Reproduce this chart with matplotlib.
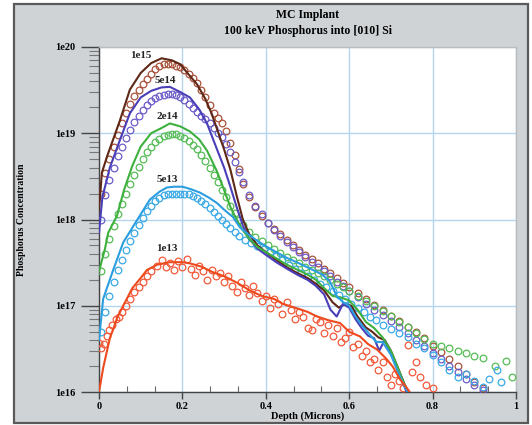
import matplotlib
matplotlib.use("Agg")
import matplotlib.pyplot as plt
from matplotlib.patches import Rectangle
from matplotlib.ticker import FixedLocator, FuncFormatter, NullFormatter
import numpy as np

W, H = 532, 425
SERIF = ["Liberation Serif", "DejaVu Serif"]

DOSES = ["1e15", "5e14", "2e14", "5e13", "1e13"]

# simulated profiles (solid lines): depth in microns, concentration in cm^-3
LINE_1E15_X = [0.000, 0.007, 0.020, 0.034, 0.050, 0.074, 0.100, 0.125, 0.150, 0.175,
               0.195, 0.215, 0.235, 0.255, 0.270, 0.285, 0.300, 0.315, 0.330, 0.345,
               0.360, 0.380, 0.400, 0.425, 0.450, 0.475, 0.500, 0.520, 0.540, 0.560,
               0.575, 0.590, 0.605, 0.620, 0.640, 0.655, 0.670, 0.685, 0.700, 0.715,
               0.728, 0.740]
LINE_1E15_Y = [1.3e18, 3.5e18, 5.5e18, 8.5e18, 1.4e19, 3.2e19, 5.0e19, 6.5e19, 7.4e19, 7.0e19,
               6.3e19, 4.8e19, 3.7e19, 2.5e19, 1.7e19, 1.05e19, 6.5e18, 3.8e18, 1.9e18, 1.0e18,
               6.8e17, 5.0e17, 4.2e17, 3.4e17, 2.8e17, 2.4e17, 2.1e17, 1.8e17, 1.5e17, 1.1e17,
               9.5e16, 1.05e17, 1.0e17, 7.5e16, 5.6e16, 5.0e16, 4.3e16, 4.0e16, 3.0e16, 2.0e16,
               1.4e16, 1.0e16]

LINE_5E14_X = [0.000, 0.008, 0.026, 0.050, 0.074, 0.100, 0.125, 0.150, 0.170, 0.195,
               0.218, 0.240, 0.259, 0.283, 0.300, 0.315, 0.330, 0.345, 0.360, 0.380,
               0.400, 0.425, 0.450, 0.475, 0.500, 0.520, 0.540, 0.555, 0.570, 0.585,
               0.600, 0.615, 0.630, 0.645, 0.660, 0.672, 0.685, 0.700, 0.715, 0.728,
               0.738]
LINE_5E14_Y = [7.0e17, 1.8e18, 4.0e18, 8.3e18, 1.7e19, 2.6e19, 3.1e19, 3.4e19, 3.45e19, 3.0e19,
               2.6e19, 1.9e19, 1.3e19, 6.5e18, 4.0e18, 2.4e18, 1.4e18, 8.5e17, 6.0e17, 4.6e17,
               3.9e17, 3.2e17, 2.7e17, 2.3e17, 2.0e17, 1.7e17, 1.35e17, 9.0e16, 7.5e16, 1.05e17,
               9.5e16, 7.0e16, 5.5e16, 4.5e16, 4.2e16, 3.0e16, 4.0e16, 2.8e16, 1.9e16, 1.3e16,
               1.0e16]

LINE_2E14_X = [0.000, 0.014, 0.022, 0.043, 0.060, 0.080, 0.100, 0.125, 0.150, 0.170,
               0.195, 0.218, 0.240, 0.259, 0.283, 0.300, 0.315, 0.330, 0.345, 0.360,
               0.380, 0.400, 0.450, 0.500, 0.520, 0.540, 0.560, 0.580, 0.600, 0.620,
               0.640, 0.660, 0.680, 0.700, 0.715, 0.730, 0.742]
LINE_2E14_Y = [2.5e17, 4.5e17, 7.0e17, 1.1e18, 2.2e18, 4.2e18, 7.0e18, 1.0e19, 1.15e19, 1.3e19,
               1.2e19, 1.05e19, 8.5e18, 6.3e18, 3.6e18, 2.2e18, 1.4e18, 1.0e18, 7.5e17, 6.0e17,
               4.8e17, 4.2e17, 3.0e17, 2.3e17, 2.0e17, 1.6e17, 1.3e17, 1.25e17, 1.15e17, 9.0e16,
               6.5e16, 5.5e16, 4.3e16, 3.0e16, 2.0e16, 1.3e16, 1.0e16]

LINE_5E13_X = [0.000, 0.010, 0.034, 0.058, 0.091, 0.122, 0.145, 0.163, 0.180, 0.200,
               0.220, 0.242, 0.263, 0.283, 0.300, 0.321, 0.338, 0.360, 0.386, 0.410,
               0.450, 0.480, 0.513, 0.535, 0.554, 0.570, 0.585, 0.600, 0.615, 0.630,
               0.650, 0.665, 0.680, 0.700, 0.715, 0.728, 0.740]
LINE_5E13_Y = [4.0e16, 1.2e17, 2.6e17, 5.4e17, 9.8e17, 1.7e18, 2.1e18, 2.35e18, 2.4e18, 2.4e18,
               2.25e18, 2.05e18, 1.8e18, 1.55e18, 1.3e18, 1.07e18, 8.1e17, 6.6e17, 5.4e17, 4.6e17,
               3.6e17, 3.1e17, 2.6e17, 2.3e17, 1.9e17, 1.3e17, 1.1e17, 1.0e17, 7.5e16, 6.0e16,
               4.6e16, 3.8e16, 3.8e16, 2.7e16, 1.8e16, 1.3e16, 1.0e16]

LINE_1E13_X = [0.000, 0.010, 0.026, 0.045, 0.058, 0.080, 0.100, 0.115, 0.140, 0.170,
               0.200, 0.218, 0.245, 0.273, 0.300, 0.331, 0.362, 0.390, 0.420, 0.441,
               0.470, 0.500, 0.523, 0.550, 0.578, 0.600, 0.626, 0.645, 0.667, 0.690,
               0.705, 0.722, 0.739, 0.745]
LINE_1E13_Y = [1.0e16, 1.9e16, 4.2e16, 7.5e16, 1.0e17, 1.6e17, 2.1e17, 2.6e17, 3.0e17, 3.2e17,
               3.2e17, 3.1e17, 2.85e17, 2.45e17, 2.2e17, 1.85e17, 1.5e17, 1.3e17, 1.2e17, 1.05e17,
               9.5e16, 8.5e16, 7.5e16, 6.8e16, 6.3e16, 5.0e16, 4.4e16, 3.6e16, 3.1e16, 2.4e16,
               1.95e16, 1.4e16, 1.1e16, 1.0e16]

# measured (SIMS) profiles: open circles
PTS_1E15_X = [0.005, 0.015, 0.025, 0.035, 0.045, 0.055, 0.065, 0.075, 0.085, 0.095,
              0.105, 0.115, 0.125, 0.135, 0.145, 0.155, 0.165, 0.175, 0.185, 0.195,
              0.205, 0.215, 0.225, 0.235, 0.245, 0.255, 0.265, 0.275, 0.285, 0.295,
              0.305, 0.315, 0.325, 0.335, 0.345, 0.360, 0.375, 0.390, 0.405, 0.420,
              0.435, 0.450, 0.465, 0.480, 0.495, 0.510, 0.525, 0.540, 0.555, 0.570,
              0.585, 0.600, 0.620, 0.640, 0.660, 0.680, 0.700, 0.720, 0.740, 0.760,
              0.780, 0.800, 0.820, 0.840, 0.860, 0.880, 0.900, 0.920]
PTS_1E15_Y = [2.0e18, 3.5e18, 5.0e18, 7.0e18, 9.5e18, 1.3e19, 1.7e19, 2.2e19, 2.7e19, 3.2e19,
              3.7e19, 4.3e19, 4.9e19, 5.5e19, 6.0e19, 6.3e19, 6.4e19, 6.3e19, 6.1e19, 5.8e19,
              5.4e19, 4.9e19, 4.4e19, 3.8e19, 3.2e19, 2.6e19, 2.1e19, 1.7e19, 1.5e19, 1.3e19,
              1.05e19, 7.8e18, 5.6e18, 3.9e18, 2.6e18, 1.8e18, 1.4e18, 1.1e18, 9.0e17, 7.8e17,
              6.8e17, 5.8e17, 5.0e17, 4.4e17, 3.9e17, 3.5e17, 3.1e17, 2.7e17, 2.4e17, 2.1e17,
              1.85e17, 1.65e17, 1.4e17, 1.2e17, 1.02e17, 8.9e16, 7.6e16, 6.6e16, 5.7e16, 5.0e16,
              4.2e16, 3.4e16, 2.9e16, 2.4e16, 2.0e16, 1.6e16, 1.3e16, 1.1e16]

PTS_5E14_X = [0.005, 0.015, 0.025, 0.035, 0.045, 0.055, 0.065, 0.075, 0.085, 0.095,
              0.105, 0.115, 0.125, 0.135, 0.145, 0.155, 0.165, 0.175, 0.185, 0.195,
              0.205, 0.215, 0.225, 0.235, 0.245, 0.255, 0.265, 0.275, 0.285, 0.295,
              0.305, 0.315, 0.325, 0.335, 0.345, 0.360, 0.375, 0.390, 0.405, 0.420,
              0.435, 0.450, 0.465, 0.480, 0.495, 0.510, 0.525, 0.540, 0.555, 0.570,
              0.585, 0.600, 0.620, 0.640, 0.660, 0.680, 0.700, 0.720, 0.740, 0.760,
              0.780, 0.800, 0.820, 0.840, 0.860, 0.880, 0.900, 0.920]
PTS_5E14_Y = [1.0e18, 1.9e18, 2.9e18, 4.0e18, 5.4e18, 7.0e18, 8.8e18, 1.1e19, 1.35e19, 1.6e19,
              1.85e19, 2.1e19, 2.35e19, 2.55e19, 2.7e19, 2.8e19, 2.85e19, 2.85e19, 2.8e19, 2.65e19,
              2.45e19, 2.2e19, 1.95e19, 1.75e19, 1.6e19, 1.45e19, 1.3e19, 1.15e19, 1.02e19, 9.0e18,
              7.5e18, 6.0e18, 4.7e18, 3.6e18, 2.7e18, 1.9e18, 1.45e18, 1.15e18, 9.2e17, 7.6e17,
              6.4e17, 5.5e17, 4.8e17, 4.2e17, 3.7e17, 3.2e17, 2.8e17, 2.5e17, 2.2e17, 1.9e17,
              1.7e17, 1.5e17, 1.25e17, 1.05e17, 9.0e16, 7.8e16, 6.6e16, 5.6e16, 4.8e16, 4.0e16,
              3.4e16, 2.8e16, 2.4e16, 2.0e16, 1.7e16, 1.4e16, 1.2e16, 1.05e16]

PTS_2E14_X = [0.005, 0.015, 0.025, 0.035, 0.045, 0.055, 0.065, 0.075, 0.085, 0.095,
              0.105, 0.115, 0.125, 0.135, 0.145, 0.155, 0.165, 0.175, 0.185, 0.195,
              0.205, 0.215, 0.225, 0.235, 0.245, 0.255, 0.265, 0.275, 0.285, 0.295,
              0.305, 0.315, 0.325, 0.335, 0.345, 0.360, 0.375, 0.390, 0.405, 0.420,
              0.435, 0.450, 0.465, 0.480, 0.495, 0.510, 0.525, 0.540, 0.555, 0.570,
              0.585, 0.600, 0.620, 0.640, 0.660, 0.680, 0.700, 0.720, 0.740, 0.760,
              0.780, 0.800, 0.820, 0.840, 0.860, 0.880, 0.900, 0.920, 0.950, 0.975,
              0.990]
PTS_2E14_Y = [2.5e17, 4.0e17, 6.0e17, 8.5e17, 1.15e18, 1.5e18, 2.0e18, 2.6e18, 3.3e18, 4.1e18,
              5.0e18, 6.0e18, 7.0e18, 7.9e18, 8.6e18, 9.2e18, 9.6e18, 9.8e18, 9.7e18, 9.4e18,
              8.9e18, 8.2e18, 7.4e18, 6.5e18, 5.6e18, 4.8e18, 4.0e18, 3.3e18, 2.7e18, 2.2e18,
              1.8e18, 1.45e18, 1.2e18, 1.0e18, 8.6e17, 7.2e17, 6.3e17, 5.6e17, 5.0e17, 4.5e17,
              4.1e17, 3.7e17, 3.4e17, 3.1e17, 2.8e17, 2.6e17, 2.4e17, 2.2e17, 2.0e17, 1.8e17,
              1.65e17, 1.5e17, 1.3e17, 1.15e17, 1.0e17, 8.8e16, 7.6e16, 6.5e16, 5.6e16, 4.8e16,
              4.1e16, 3.6e16, 3.4e16, 3.2e16, 3.0e16, 2.8e16, 2.6e16, 2.5e16, 2.0e16, 2.3e16,
              1.5e16]

PTS_5E13_X = [0.005, 0.015, 0.025, 0.035, 0.045, 0.055, 0.065, 0.075, 0.085, 0.095,
              0.105, 0.115, 0.125, 0.135, 0.145, 0.155, 0.165, 0.175, 0.185, 0.195,
              0.205, 0.215, 0.225, 0.235, 0.245, 0.255, 0.265, 0.275, 0.285, 0.295,
              0.305, 0.315, 0.325, 0.335, 0.350, 0.365, 0.380, 0.395, 0.410, 0.425,
              0.440, 0.455, 0.470, 0.485, 0.500, 0.515, 0.530, 0.545, 0.560, 0.575,
              0.590, 0.605, 0.620, 0.635, 0.650, 0.665, 0.680, 0.700, 0.720, 0.740,
              0.760, 0.780, 0.800, 0.820, 0.840, 0.860, 0.880, 0.900, 0.920, 0.935,
              0.955, 0.965]
PTS_5E13_Y = [5.0e16, 8.5e16, 1.3e17, 1.9e17, 2.6e17, 3.4e17, 4.4e17, 5.6e17, 7.0e17, 8.6e17,
              1.05e18, 1.25e18, 1.45e18, 1.62e18, 1.78e18, 1.9e18, 1.98e18, 2.0e18, 2.0e18, 2.0e18,
              1.98e18, 1.95e18, 1.88e18, 1.78e18, 1.65e18, 1.5e18, 1.36e18, 1.22e18, 1.1e18, 9.8e17,
              8.8e17, 7.9e17, 7.1e17, 6.4e17, 5.8e17, 5.3e17, 4.9e17, 4.6e17, 4.2e17, 3.8e17,
              3.4e17, 3.0e17, 2.7e17, 2.4e17, 2.2e17, 2.0e17, 1.8e17, 1.65e17, 1.5e17, 1.35e17,
              1.2e17, 1.05e17, 9.5e16, 8.5e16, 7.5e16, 6.8e16, 6.0e16, 5.4e16, 4.8e16, 4.3e16,
              3.6e16, 3.2e16, 2.7e16, 2.2e16, 1.8e16, 1.5e16, 1.6e16, 1.35e16, 1.15e16, 1.4e16,
              1.8e16, 1.3e16]

PTS_1E13_X = [0.000, 0.005, 0.012, 0.020, 0.025, 0.032, 0.040, 0.048, 0.055, 0.065,
              0.075, 0.085, 0.095, 0.105, 0.115, 0.125, 0.140, 0.150, 0.160, 0.170,
              0.180, 0.190, 0.200, 0.210, 0.220, 0.230, 0.240, 0.250, 0.260, 0.270,
              0.280, 0.290, 0.300, 0.310, 0.320, 0.330, 0.340, 0.350, 0.360, 0.370,
              0.380, 0.390, 0.400, 0.410, 0.420, 0.430, 0.440, 0.450, 0.460, 0.470,
              0.480, 0.490, 0.500, 0.510, 0.520, 0.530, 0.540, 0.550, 0.560, 0.570,
              0.580, 0.590, 0.600, 0.610, 0.620, 0.630, 0.640, 0.650, 0.660, 0.670,
              0.680, 0.690, 0.700, 0.710, 0.720, 0.730, 0.740, 0.750, 0.760, 0.770,
              0.785, 0.800]
PTS_1E13_Y = [3.7e16, 3.2e16, 3.6e16, 4.5e16, 5.3e16, 6.0e16, 7.0e16, 7.5e16, 8.5e16, 1.0e17,
              1.2e17, 1.45e17, 1.65e17, 1.9e17, 2.2e17, 2.5e17, 2.9e17, 3.4e17, 2.8e17, 3.1e17,
              2.6e17, 3.3e17, 2.8e17, 3.5e17, 2.7e17, 2.3e17, 2.9e17, 2.5e17, 2.0e17, 2.6e17,
              2.2e17, 2.4e17, 1.9e17, 2.2e17, 1.7e17, 1.45e17, 1.9e17, 1.6e17, 1.35e17, 1.7e17,
              1.4e17, 1.15e17, 1.3e17, 9.5e16, 1.2e17, 1.05e17, 8.0e16, 1.1e17, 9.0e16, 7.0e16,
              8.5e16, 7.5e16, 5.5e16, 5.3e16, 7.0e16, 6.5e16, 4.8e16, 6.0e16, 4.5e16, 5.5e16,
              3.8e16, 4.2e16, 5.0e16, 3.3e16, 3.6e16, 2.6e16, 3.0e16, 2.2e16, 2.4e16, 1.8e16,
              2.2e16, 1.5e16, 1.2e16, 1.6e16, 1.35e16, 1.1e16, 3.5e16, 1.7e16, 2.2e16, 1.5e16,
              1.2e16, 1.1e16]

LINES_X = [LINE_1E15_X, LINE_5E14_X, LINE_2E14_X, LINE_5E13_X, LINE_1E13_X]
LINES_Y = [LINE_1E15_Y, LINE_5E14_Y, LINE_2E14_Y, LINE_5E13_Y, LINE_1E13_Y]
PTS_X = [PTS_1E15_X, PTS_5E14_X, PTS_2E14_X, PTS_5E13_X, PTS_1E13_X]
PTS_Y = [PTS_1E15_Y, PTS_5E14_Y, PTS_2E14_Y, PTS_5E13_Y, PTS_1E13_Y]

LINE_COLORS = ["#5e2716", "#4a3fb8", "#3db03d", "#2c9ee0", "#ee4a1e"]
PT_COLORS = ["#a9513a", "#6c5cc8", "#55bd55", "#3aa9e6", "#f25a3a"]
# where the dose labels sit (depth, concentration)
LABEL_POS = [(0.10, 8.0e19), (0.158, 4.1e19), (0.163, 1.55e19), (0.163, 2.9e18), (0.163, 4.6e17)]

fig = plt.figure(figsize=(W / 100, H / 100), dpi=100)
fig.patch.set_facecolor("white")
fig.patches.append(Rectangle((14 / W, 1 - 423 / H), (528 - 14) / W, (423 - 4) / H,
                             transform=fig.transFigure, facecolor="#cfd3d6",
                             edgecolor="#5a5a5a", linewidth=1.6, zorder=-10))

ax = fig.add_axes([99 / W, 1 - 392 / H, (516 - 99) / W, (392 - 47) / H])
ax.set_facecolor("white")
ax.set_yscale("log")
ax.set_xlim(0, 1)
ax.set_ylim(1e16, 1e20)

ax.grid(True, which="major", color="#b3d5ee", linewidth=1.0)
ax.set_axisbelow(True)

for lx, ly, px, py, lc, pc in zip(LINES_X, LINES_Y, PTS_X, PTS_Y, LINE_COLORS, PT_COLORS):
    ax.plot(px, py, linestyle="none", marker="o", markersize=4.8, markerfacecolor="none",
            markeredgecolor=pc, markeredgewidth=0.9, zorder=3)
    ax.plot(lx, ly, color=lc, linewidth=1.5, zorder=4, clip_on=True)

for dose, (tx, ty) in zip(DOSES, LABEL_POS):
    ax.text(tx, ty, dose, ha="center", va="center", fontsize=8, fontweight="bold",
            family=SERIF, color="#222222", zorder=5)

# axes frame and ticks
for side in ["left", "bottom"]:
    ax.spines[side].set_color("#444444")
    ax.spines[side].set_linewidth(1.0)
for side in ["top", "right"]:
    ax.spines[side].set_color("#b8bcbf")
    ax.spines[side].set_linewidth(1.0)

ax.yaxis.set_major_locator(FixedLocator([1e16, 1e17, 1e18, 1e19, 1e20]))
ax.yaxis.set_major_formatter(FuncFormatter(lambda v, p: f"1e{int(round(np.log10(v)))}"))
ax.yaxis.set_minor_formatter(NullFormatter())
ax.tick_params(axis="y", which="major", direction="out", length=13, width=1.0,
               color="#444444", pad=4, labelsize=7.5)
ax.tick_params(axis="y", which="minor", direction="out", length=7, width=0.8,
               color="#777777")

ax.xaxis.set_major_locator(FixedLocator([0, 0.2, 0.4, 0.6, 0.8, 1.0]))
ax.xaxis.set_major_formatter(FuncFormatter(lambda v, p: f"{v:g}"))
ax.xaxis.set_minor_locator(FixedLocator([i * 0.2 / 3 for i in range(16) if i % 3]))
ax.tick_params(axis="x", which="major", direction="out", length=5, width=1.0,
               color="#444444", pad=2, labelsize=7.5)
ax.tick_params(axis="x", which="minor", direction="in", length=4, width=0.8,
               color="#666666")
for lab in ax.get_xticklabels() + ax.get_yticklabels():
    lab.set_family(SERIF)
    lab.set_fontweight("bold")

fig.text(307.5 / W, 1 - 15 / H, "MC Implant", ha="center", va="center", fontsize=8.5,
         fontweight="bold", family=SERIF)
fig.text(307.5 / W, 1 - 31 / H, "100 keV Phosphorus into [010] Si", ha="center",
         va="center", fontsize=8.5, fontweight="bold", family=SERIF)
fig.text(307.5 / W, 1 - 416.5 / H, "Depth (Microns)", ha="center", va="center", fontsize=7.5,
         fontweight="bold", family=SERIF)
fig.text(22 / W, 1 - 220 / H, "Phosphorus Concentration", ha="center", va="center",
         rotation=90, fontsize=7, fontweight="bold", family=SERIF)

fig.savefig("out.png", dpi=100)
